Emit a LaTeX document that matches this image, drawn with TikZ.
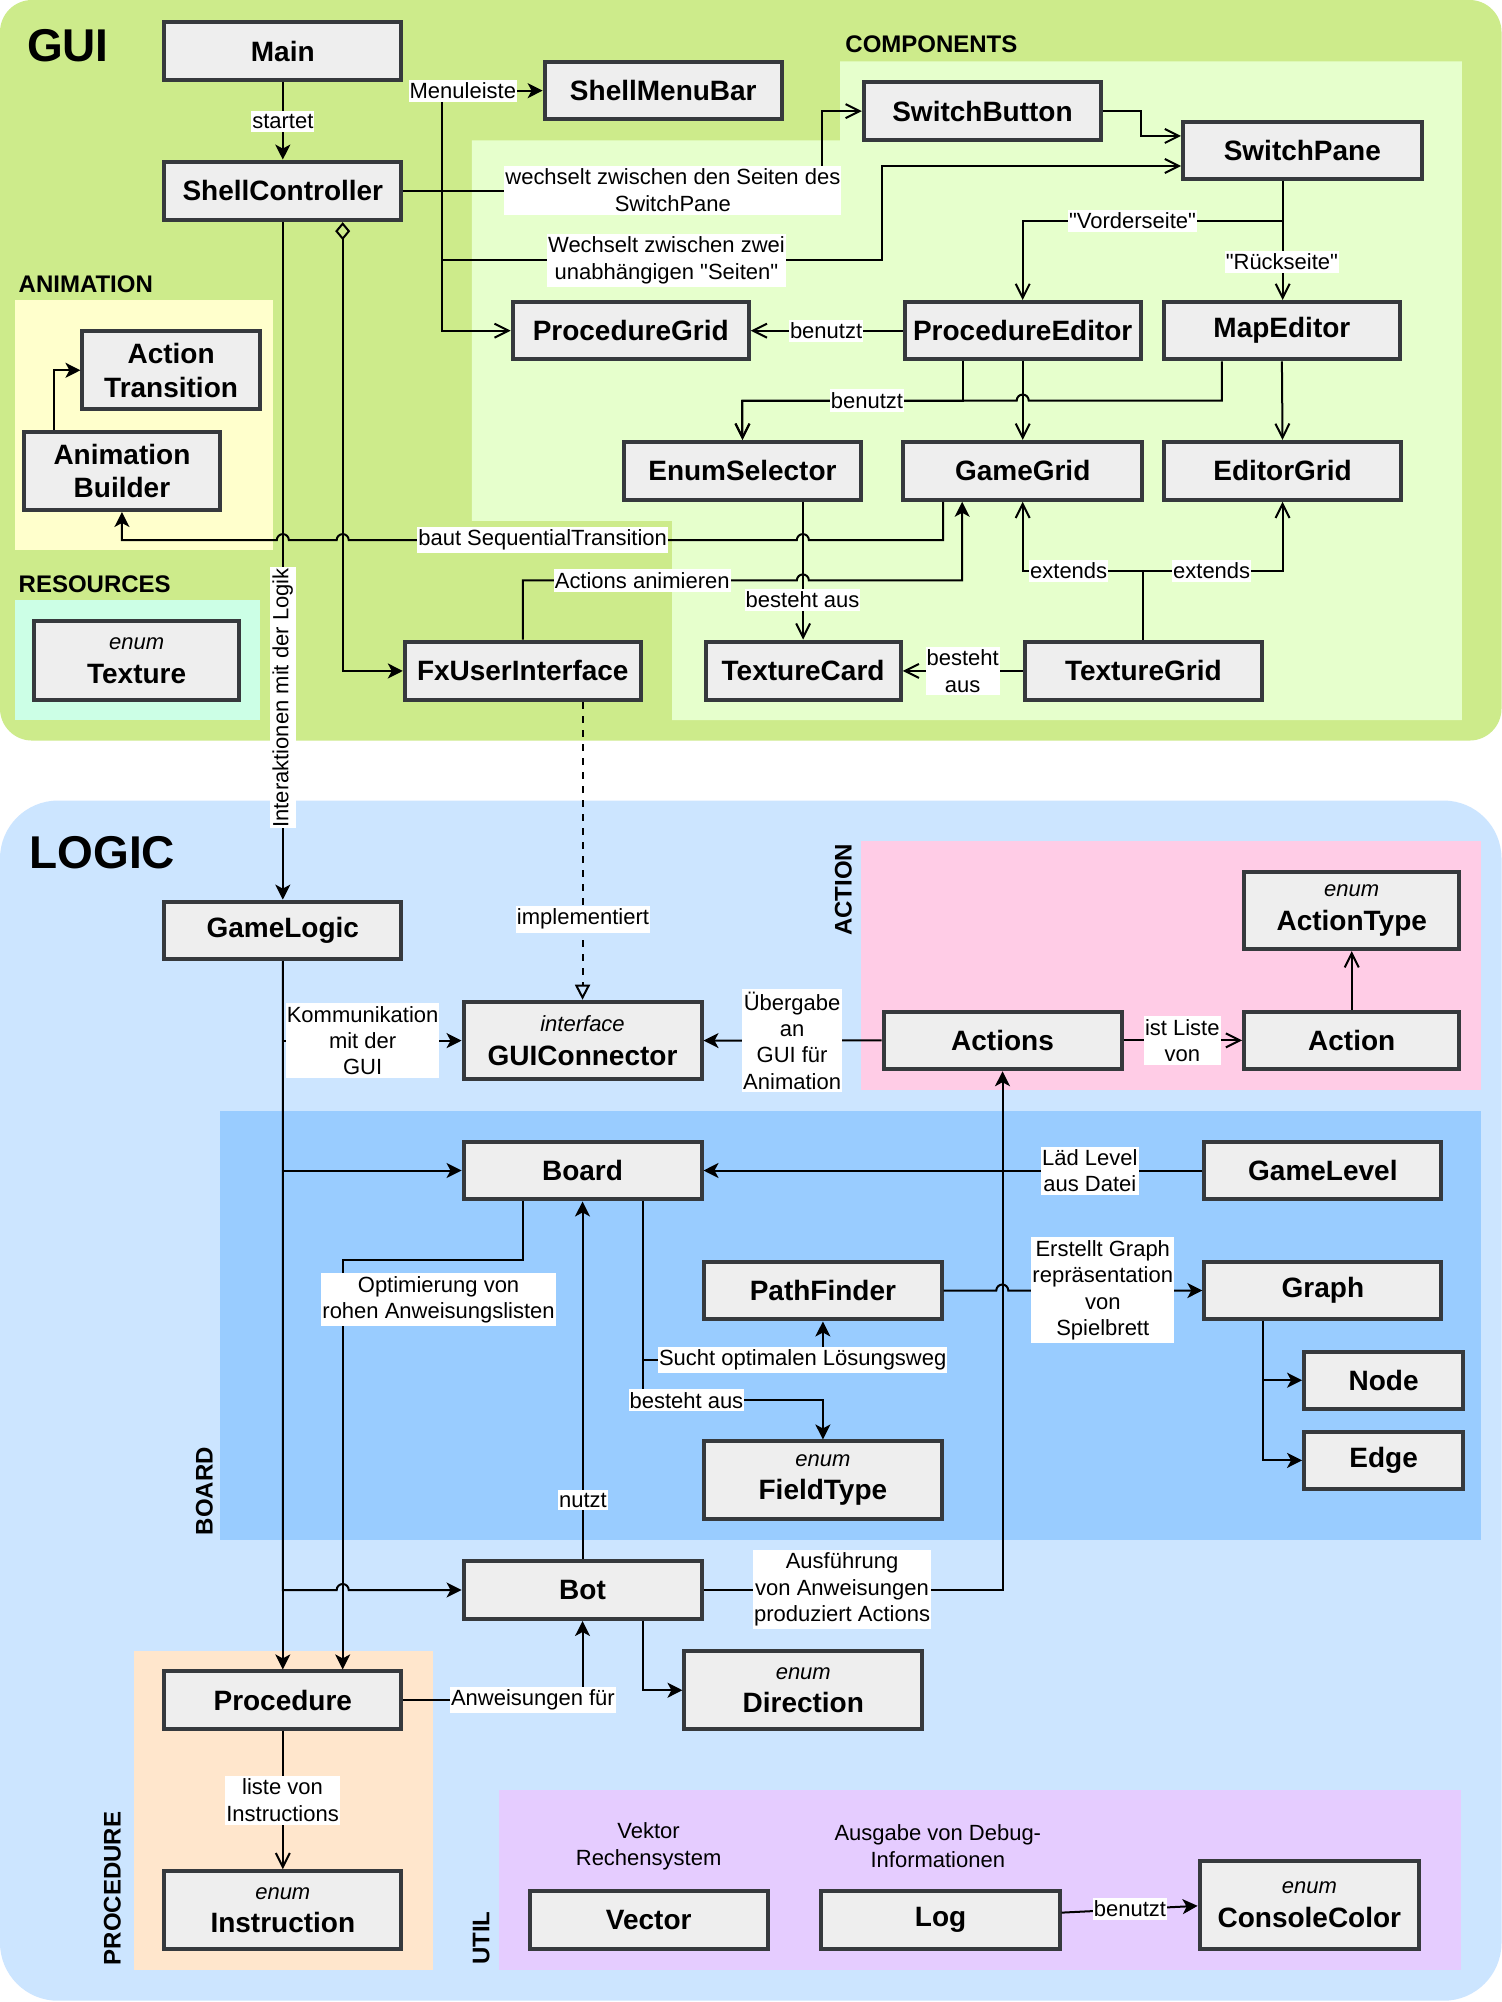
\documentclass[tikz,border=0pt]{standalone}
\usepackage{fontspec}
\setmainfont{Liberation Sans}[Ligatures=TeXOff]
\usetikzlibrary{arrows.meta,calc}
\definecolor{guig}{HTML}{CDEB8B}
\definecolor{compg}{HTML}{E6FFCC}
\definecolor{animy}{HTML}{FFFFCC}
\definecolor{resm}{HTML}{CCFFE6}
\definecolor{logb}{HTML}{CCE5FF}
\definecolor{actp}{HTML}{FFCCE6}
\definecolor{boardb}{HTML}{99CCFF}
\definecolor{procp}{HTML}{FFE6CC}
\definecolor{utilv}{HTML}{E5CCFF}
\definecolor{boxf}{HTML}{EEEEEE}
\definecolor{boxd}{HTML}{36393D}
\newcommand\umlbox[6]{\node[cbox, minimum width={(#4-#2)*1.2773pt-4pt}, minimum height={(#5-#3)*1.2773pt-4pt}] (#1) at ({(#2+#4)/2},{(#3+#5)/2}) {#6};}
\newcommand\enumtag[1]{{\fontsize{22}{33.6}\selectfont\mdseries\itshape #1}}
\tikzset{
  cbox/.style={draw=boxd, fill=boxf, line width=4pt, inner sep=0pt, align=center, font=\fontsize{28}{33.6}\selectfont\bfseries},
  lbl/.style={fill=white, inner xsep=1pt, inner ysep=3pt, align=center, font=\fontsize{22}{26.4}\selectfont},
  conn/.style={line width=2pt, draw=black},
  farrow/.style={-{Stealth[length=15pt,width=15pt,inset=4pt]}},
  oarrow/.style={-{Straight Barb[length=14pt,width=14pt]}},
  title/.style={anchor=base west, inner sep=0pt, font=\fontsize{46}{55}\selectfont\bfseries},
  sect/.style={anchor=base west, inner sep=0pt, font=\fontsize{24}{28}\selectfont\bfseries},
  rsect/.style={rotate=90, inner sep=0pt, font=\fontsize{24}{28}\selectfont\bfseries},
  note/.style={align=center, inner sep=0pt, font=\fontsize{22}{26.4}\selectfont}
}
\begin{document}
\begin{tikzpicture}[x=1.2773pt, y=-1.2773pt]
\useasboundingbox (0,0) rectangle (1176,1568);
\fill[white] (0,0) rectangle (1176,1568);
% ---------- containers ----------
\fill[guig, rounded corners=32pt] (0,0) rectangle (1176,580);
\fill[compg] (658,48) -- (1145,48) -- (1145,564) -- (526.5,564) -- (526.5,408) -- (369.5,408) -- (369.5,110) -- (658,110) -- cycle;
\fill[animy] (12,235) rectangle (214,431);
\fill[resm] (12,470) rectangle (204,564);
\fill[logb, rounded corners=58pt] (0,627) rectangle (1176,1567);
\fill[actp] (674,658.5) rectangle (1159.6,854);
\fill[boardb] (172.6,870) rectangle (1159.6,1206);
\fill[procp] (104.7,1293) rectangle (339,1543);
\fill[utilv] (390.7,1402) rectangle (1144,1543);
% ---------- titles ----------
\node[title] (tgui) at (21,48) {GUI};
\node[title] (tlogic) at (23,680) {LOGIC};
\node[sect] (tcomp) at (662,41) {COMPONENTS};
\node[sect] (tanim) at (14.5,229) {ANIMATION};
\node[sect] (tres) at (14.5,464) {RESOURCES};
\node[rsect] (tact) at (660.5,697) {ACTION};
\node[rsect] (tboard) at (160,1168) {BOARD};
\node[rsect] (tproc) at (88,1479) {PROCEDURE};
\node[rsect] (tutil) at (377,1518) {UTIL};
% ---------- GUI nodes ----------
\umlbox{main}{127}{16}{316}{64}{Main}
\umlbox{smb}{425}{47}{614}{95}{ShellMenuBar}
\umlbox{sc}{127}{125}{316}{174}{ShellController}
\umlbox{sb}{675}{63}{864}{111}{SwitchButton}
\umlbox{sp}{925}{94}{1115}{142}{SwitchPane}
\umlbox{pg}{400}{235}{588}{283}{ProcedureGrid}
\umlbox{pe}{707}{235}{895}{283}{ProcedureEditor}
\umlbox{me}{910}{235}{1098}{283}{MapEditor}
\umlbox{es}{487}{344.5}{676}{393}{EnumSelector}
\umlbox{gg}{706}{344.5}{896}{393}{GameGrid}
\umlbox{eg}{910}{344.5}{1099}{393}{EditorGrid}
\umlbox{fx}{315.5}{501}{503.4}{550}{FxUserInterface}
\umlbox{tc}{551}{501}{707}{550}{TextureCard}
\umlbox{tg}{801}{501}{990}{550}{TextureGrid}
\umlbox{acttr}{63}{258}{205}{322}{Action\\Transition}
\umlbox{anib}{17}{336.6}{174}{401}{Animation\\Builder}
\umlbox{tex}{25}{485}{189}{550}{\enumtag{enum}\\Texture}
% ---------- LOGIC nodes ----------
\umlbox{gl}{127}{704.6}{316}{753}{GameLogic}
\umlbox{gc}{361.5}{783}{551}{847}{\enumtag{interface}\\GUIConnector}
\umlbox{bd}{361.5}{892.5}{551}{941}{Board}
\umlbox{acts}{690.4}{790.7}{880}{839}{Actions}
\umlbox{act}{972.8}{790.7}{1144.6}{839}{Action}
\umlbox{atype}{972.8}{681}{1144.6}{745}{\enumtag{enum}\\ActionType}
\umlbox{glv}{941.7}{892.5}{1130.5}{941}{GameLevel}
\umlbox{pf}{550}{986.5}{739}{1035}{PathFinder}
\umlbox{gr}{941.7}{986.5}{1130.5}{1035}{Graph}
\umlbox{nd}{1019.8}{1057}{1147.5}{1105}{Node}
\umlbox{ed}{1019.8}{1119.6}{1147.5}{1168}{Edge}
\umlbox{ft}{550}{1127.4}{739}{1191}{\enumtag{enum}\\FieldType}
\umlbox{bot}{361.5}{1221}{551}{1269.6}{Bot}
\umlbox{dir}{534.5}{1291.8}{723.8}{1355.8}{\enumtag{enum}\\Direction}
\umlbox{proc}{127}{1307.5}{316}{1355.7}{Procedure}
\umlbox{ins}{127}{1464}{316}{1528}{\enumtag{enum}\\Instruction}
\umlbox{vec}{413.3}{1479.7}{602.9}{1528}{Vector}
\umlbox{log}{641.8}{1479.7}{831.5}{1528}{Log}
\umlbox{cc}{938}{1456}{1113}{1528}{\enumtag{enum}\\ConsoleColor}
\node[note] (nvec) at (508,1446) {Vektor\\Rechensystem};
\node[note] (nlog) at (734.5,1446) {Ausgabe von Debug-\\Informationen};
% ---------- GUI connectors ----------
\draw[conn,farrow] (main) -- (sc);
\draw[conn,farrow] (42,0 |- anib.north) |- (acttr.west);
\draw[conn,farrow] (sc.east) -| (346,71) -- (smb.west);
\draw[conn,oarrow] (sc.east) -| (346,259) -- (pg.west);
\draw[conn,oarrow] (sc.east) -- (644,0 |- sc.east) |- (sb.west);
\draw[conn,oarrow] (sc.east) -| (346,204) -- (691,204) |- (sp.west |- 0,130);
\draw[conn,oarrow] (sb.east) -- (894,0 |- sb.east) |- (sp.west |- 0,106.5);
\draw[conn,oarrow] (1004.6,0 |- sp.south) -- (1004.6,173) -| (pe.north);
\draw[conn,oarrow] (1004.6,0 |- sp.south) -- (1004.6,0 |- me.north);
\draw[conn,oarrow] (pe.west) -- (pg.east);
\draw[conn,oarrow] (754,0 |- pe.south) |- (581.5,313.7) -- (es.north);
\draw[conn,oarrow] (957,0 |- me.south) -- (957,313.7) -- (805.7,313.7) arc[start angle=0,end angle=180,radius=6pt] -- (581.5,313.7) -- (es.north);
\draw[conn,oarrow] (pe.south) -- (gg.north);
\draw[conn,oarrow] (me.south) -- (eg.north);
\draw[conn,oarrow] (tc.north |- es.south) -- (tc.north);
\draw[conn,oarrow] (tg.west) -- (tc.east);
\draw[conn,oarrow] (tg.north) |- (801,447) -- (gg.south);
\draw[conn,oarrow] (tg.north) |- (1004.5,447) -- (eg.south);
\draw[conn,farrow] (738.7,0 |- gg.south) -- (738.7,423) -- (633.5,423) arc[start angle=0,end angle=180,radius=6pt] -- (273.1,423) arc[start angle=0,end angle=180,radius=6pt] -- (226.2,423) arc[start angle=0,end angle=180,radius=6pt] -- (anib.south |- 0,423) -- (anib.south);
\draw[conn,farrow] (fx.north) -- (409.5,454.6) -- (624.1,454.6) arc[start angle=180,end angle=0,radius=6pt] -- (753.6,454.6) -- (753.6,0 |- gg.south);
\draw[conn,{Diamond[open,length=18pt,width=15pt]}-{Stealth[length=15pt,width=15pt,inset=4pt]}] (268.4,0 |- sc.south) |- (fx.west);
\draw[conn,farrow] (sc.south) -- (gl.north);
\draw[conn,dash pattern=on 7pt off 7pt,-{Triangle[open,length=15pt,width=15pt]}] (gc.north |- fx.south) -- (gc.north);
% ---------- LOGIC connectors ----------
\draw[conn,farrow] (gl.south) |- (gc.west);
\draw[conn,farrow] (gl.south) |- (bd.west);
\draw[conn,farrow] (gl.south) -- (221.5,0 |- bot.west) -- (263.7,0 |- bot.west) arc[start angle=180,end angle=0,radius=6pt] -- (bot.west);
\draw[conn,farrow] (gl.south) -- (proc.north);
\draw[conn,farrow] (409.5,0 |- bd.south) |- (268.4,987) -- (268.4,0 |- proc.north);
\draw[conn,farrow] (bot.north) -- (bd.south);
\draw[conn,farrow] (503.3,0 |- bd.south) |- (pf.south |- 0,1065.3) -- (pf.south);
\draw[conn,farrow] (503.3,0 |- bd.south) |- (ft.north |- 0,1096.6) -- (ft.north);
\draw[conn,farrow] (pf.east) -- (780.3,0 |- pf.east) arc[start angle=180,end angle=0,radius=6pt] -- (gr.west);
\draw[conn,farrow] (988.8,0 |- gr.south) |- (nd.west);
\draw[conn,farrow] (988.8,0 |- gr.south) |- (ed.west);
\draw[conn,farrow] (glv.west) -- (bd.east);
\draw[conn,farrow] (bot.east) -| (acts.south);
\draw[conn,farrow] (acts.west) -- (gc.east);
\draw[conn,oarrow] (acts.east) -- (act.west);
\draw[conn,oarrow] (act.north) -- (atype.south);
\draw[conn,farrow] (503.3,0 |- bot.south) |- (dir.west);
\draw[conn,farrow] (proc.east) -| (bot.south);
\draw[conn,oarrow] (proc.south) -- (ins.north);
\draw[conn,farrow] (log.east |- 0,1498) -- (cc.west |- 0,1492.7);
% ---------- labels ----------
\node[lbl] (l1) at (221.5,95) {startet};
\node[lbl] (l2) at (362.5,71) {Menuleiste};
\node[lbl] (l3) at (527,149) {wechselt zwischen den Seiten des\\SwitchPane};
\node[lbl] (l4) at (522,204) {Wechselt zwischen zwei\\unabhängigen "Seiten"};
\node[lbl] (l5) at (887,173) {"Vorderseite"};
\node[lbl] (l6) at (1004,205) {"Rückseite"};
\node[lbl] (l7) at (647,259) {benutzt};
\node[lbl] (l8) at (679,313.7) {benutzt};
\node[lbl] (l9) at (628.6,470) {besteht aus};
\node[lbl] (l10) at (754,525.5) {besteht\\aus};
\node[lbl] (l11) at (837,447) {extends};
\node[lbl] (l12) at (949,447) {extends};
\node[lbl] (l13) at (425,423) {baut SequentialTransition};
\node[lbl] (l14) at (503,454.6) {Actions animieren};
\node[lbl,rotate=90] (l15) at (221.5,546.6) {Interaktionen mit der Logik};
\node[lbl] (l16) at (456.6,720) {implementiert};
\node[lbl] (l17) at (284,815) {Kommunikation\\mit der\\GUI};
\node[lbl] (l18) at (620.4,815) {Übergabe\\an\\GUI für\\Animation};
\node[lbl] (l19) at (926,815) {ist Liste\\von};
\node[lbl] (l20) at (853.6,917) {Läd Level\\aus Datei};
\node[lbl] (l21) at (343.5,1018) {Optimierung von\\rohen Anweisungslisten};
\node[lbl] (l22) at (628.7,1065) {Sucht optimalen Lösungsweg};
\node[lbl] (l23) at (537.6,1096.6) {besteht aus};
\node[lbl] (l24) at (863.7,1010.5) {Erstellt Graph\\repräsentation\\von\\Spielbrett};
\node[lbl] (l25) at (456.6,1175) {nutzt};
\node[lbl] (l26) at (659.5,1245) {Ausführung\\von Anweisungen\\produziert Actions};
\node[lbl] (l27) at (417.4,1331.5) {Anweisungen für};
\node[lbl] (l28) at (221.3,1410) {liste von\\Instructions};
\node[lbl] (l29) at (885,1495) {benutzt};
\end{tikzpicture}
\end{document}
